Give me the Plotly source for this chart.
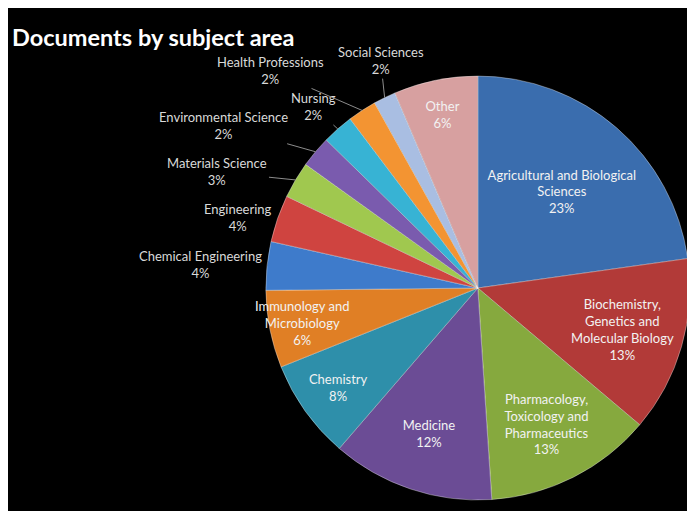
import math
import plotly.graph_objects as go

# Data
categories = [
    "Agricultural and Biological<br>Sciences",
    "Biochemistry,<br>Genetics and<br>Molecular Biology",
    "Pharmacology,<br>Toxicology and<br>Pharmaceutics",
    "Medicine",
    "Chemistry",
    "Immunology and<br>Microbiology",
    "Chemical Engineering",
    "Engineering",
    "Materials Science",
    "Environmental Science",
    "Nursing",
    "Health Professions",
    "Social Sciences",
    "Other",
]
shares = [22.8, 13.4, 12.8, 12.4, 7.6, 5.9, 3.7, 3.6, 2.8, 2.4, 2.4, 2.2, 1.7, 6.4]
colors = ["#3A6DAE", "#B23A38", "#86A93E", "#6B4C95", "#2E8FAA", "#E07F25",
          "#3E7BCB", "#CF4440", "#A0C84F", "#7A5BAE", "#37B3D4", "#F39432",
          "#A9BEE2", "#D7A0A0"]
inside = [True] * 6 + [False] * 7 + [True]

FONT = "Lato, Noto Sans, sans-serif"
W, H = 695, 511
DOM_X = [0.371, 0.981]
DOM_Y = [0.037, 0.867]

fig = go.Figure(go.Pie(
    labels=categories,
    values=shares,
    text=categories,
    texttemplate="%{text}<br>%{percent:.0%}",
    textposition=["inside" if f else "none" for f in inside],
    insidetextorientation="horizontal",
    sort=False,
    direction="clockwise",
    rotation=0,
    marker=dict(colors=colors, line=dict(color="rgba(255,255,255,0.35)", width=1)),
    insidetextfont=dict(family=FONT, size=13, color="#F2F2F2"),
    domain=dict(x=DOM_X, y=DOM_Y),
    showlegend=False,
    hoverinfo="label+percent",
))

# Outside labels for the small slices, anchored on each slice's mid-angle on the rim
total = sum(shares)
cx = (DOM_X[0] + DOM_X[1]) / 2
cy = (DOM_Y[0] + DOM_Y[1]) / 2
r_px = min((DOM_X[1] - DOM_X[0]) * W, (DOM_Y[1] - DOM_Y[0]) * H) / 2

# label offsets in screen pixels (x right, y down) from the rim point
label_offsets = {
    "Chemical Engineering": (-67, -1, False),
    "Engineering": (-40, -1, False),
    "Materials Science": (-78, -8, True),
    "Environmental Science": (-92, -26, True),
    "Nursing": (-24, -22, True),
    "Health Professions": (-92, -40, True),
    "Social Sciences": (-4, -37, True),
}

annotations = []
cum = 0.0
for cat, val in zip(categories, shares):
    mid = (cum + val / 2) / total * 2 * math.pi
    cum += val
    if cat not in label_offsets:
        continue
    dx, dy, arrow = label_offsets[cat]
    px = cx + r_px * math.sin(mid) / W
    py = cy + r_px * math.cos(mid) / H
    pct = round(val / total * 100)
    txt = f"{cat}<br>{pct}%"
    if arrow:
        annotations.append(dict(
            x=px, y=py, xref="paper", yref="paper", text=txt,
            showarrow=True, arrowhead=0, arrowwidth=1, arrowcolor="#8C8C8C",
            ax=dx, ay=dy, standoff=0,
            font=dict(family=FONT, size=13, color="#D9D9D9"),
        ))
    else:
        annotations.append(dict(
            x=px, y=py, xref="paper", yref="paper", text=txt,
            showarrow=False, xshift=dx, yshift=-dy,
            font=dict(family=FONT, size=13, color="#D9D9D9"),
        ))

annotations.append(dict(text="<b>Documents by subject area</b>", xref="paper", yref="paper",
                        x=2 / W, y=1 - 13 / H, xanchor="left", yanchor="top",
                        showarrow=False,
                        font=dict(family=FONT, size=23.5, color="white")))

fig.update_layout(
    width=W, height=H,
    margin=dict(l=0, r=0, t=0, b=0),
    paper_bgcolor="black",
    uniformtext=dict(minsize=13, mode="show"),
    annotations=annotations,
)

fig.write_html("out.html")
